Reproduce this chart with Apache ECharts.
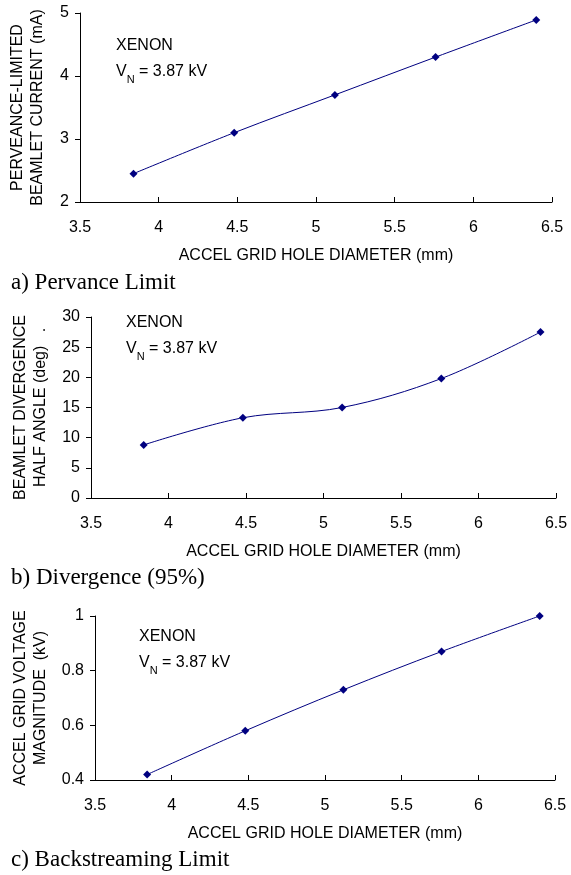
<!DOCTYPE html>
<html>
<head>
<meta charset="utf-8">
<script src="https://cdn.jsdelivr.net/npm/echarts@6/dist/echarts.min.js"></script>
<style>
  html, body { margin: 0; padding: 0; background: #fff; }
  #chartGrid { width: 571px; height: 875px; }
</style>
</head>
<body>
<div id="chartGrid"></div>
<script>
(function() {
  /** Data */
  var diameter = [3.84, 4.48, 5.12, 5.76, 6.40];
  var perveanceCurrent = [2.45, 3.1, 3.7, 4.3, 4.89];
  var divergenceAngle = [8.8, 13.3, 15.0, 19.8, 27.5];
  var backstreamVoltage = [0.42, 0.58, 0.73, 0.87, 1.0];

  var xRange = [3.5, 6.5, 0.5];
  var currentRange = [2, 5, 1];
  var angleRange = [0, 30, 5];
  var voltageRange = [0.4, 1, 0.2];

  var xName = 'ACCEL GRID HOLE DIAMETER (mm)';
  var yNames = [
    'PERVEANCE-LIMITED\nBEAMLET CURRENT (mA)',
    'BEAMLET DIVERGENCE\nHALF ANGLE (deg)   .',
    'ACCEL GRID VOLTAGE\nMAGNITUDE  (kV)'
  ];
  var captions = ['a) Pervance Limit', 'b) Divergence (95%)', 'c) Backstreaming Limit'];

  /** Style */
  var sans = "'Liberation Sans', Arial, sans-serif";
  var serif = "'Liberation Serif', 'Times New Roman', serif";
  var ink = '#000';
  var navy = '#000080';

  var grids = [
    { left: 79, right: 19, top: 13, height: 189 },
    { left: 91, right: 15, top: 317, height: 181 },
    { left: 95, right: 16, top: 616, height: 164 }
  ];
  var yGaps = [32, 40, 43];
  var notes = [[116, 33], [126, 310], [139, 624]];
  var captionPos = [[11, 283], [11, 578], [11, 860]];

  function xAxis(i) {
    return {
      type: 'value', gridIndex: i,
      min: xRange[0], max: xRange[1], interval: xRange[2],
      name: xName, nameLocation: 'middle', nameGap: 46,
      nameTextStyle: { color: ink, fontFamily: sans, fontSize: 16 },
      axisLine: { lineStyle: { color: ink, width: 1 } },
      axisTick: { inside: true, length: 5, lineStyle: { color: ink } },
      axisLabel: { color: ink, fontFamily: sans, fontSize: 16, margin: 18 },
      splitLine: { show: false }
    };
  }

  function yAxis(i, range) {
    return {
      type: 'value', gridIndex: i,
      min: range[0], max: range[1], interval: range[2],
      name: yNames[i], nameLocation: 'middle', nameGap: yGaps[i], nameRotate: 90,
      nameTextStyle: { color: ink, fontFamily: sans, fontSize: 16, lineHeight: 20 },
      axisLine: { show: true, lineStyle: { color: ink, width: 1 } },
      axisTick: { show: true, length: 5, lineStyle: { color: ink } },
      axisLabel: { color: ink, fontFamily: sans, fontSize: 16, margin: 11 },
      splitLine: { show: false }
    };
  }

  function series(i, values) {
    return {
      type: 'line', xAxisIndex: i, yAxisIndex: i,
      data: diameter.map(function(d, k) { return [d, values[k]]; }),
      smooth: 0.35,
      symbol: 'diamond', symbolSize: 8,
      lineStyle: { color: navy, width: 1 },
      itemStyle: { color: navy },
      silent: true
    };
  }

  var graphic = [];
  notes.forEach(function(p) {
    graphic.push({
      type: 'text', left: p[0], top: p[1],
      style: {
        text: 'XENON\nV{sub|N} = 3.87 kV',
        fill: ink, font: '16px ' + sans, lineHeight: 26,
        rich: { sub: { fontSize: 11, fontFamily: sans, fill: ink, verticalAlign: 'bottom', lineHeight: 11 } }
      }
    });
  });
  captions.forEach(function(c, i) {
    graphic.push({
      type: 'text', left: captionPos[i][0], top: captionPos[i][1] - 12,
      style: { text: c, fill: ink, font: '23px ' + serif }
    });
  });

  var option = {
    animation: false,
    backgroundColor: '#fff',
    grid: grids,
    xAxis: [xAxis(0), xAxis(1), xAxis(2)],
    yAxis: [yAxis(0, currentRange), yAxis(1, angleRange), yAxis(2, voltageRange)],
    series: [series(0, perveanceCurrent), series(1, divergenceAngle), series(2, backstreamVoltage)],
    graphic: graphic
  };

  echarts.init(document.getElementById('chartGrid')).setOption(option);
})();
</script>
</body>
</html>
